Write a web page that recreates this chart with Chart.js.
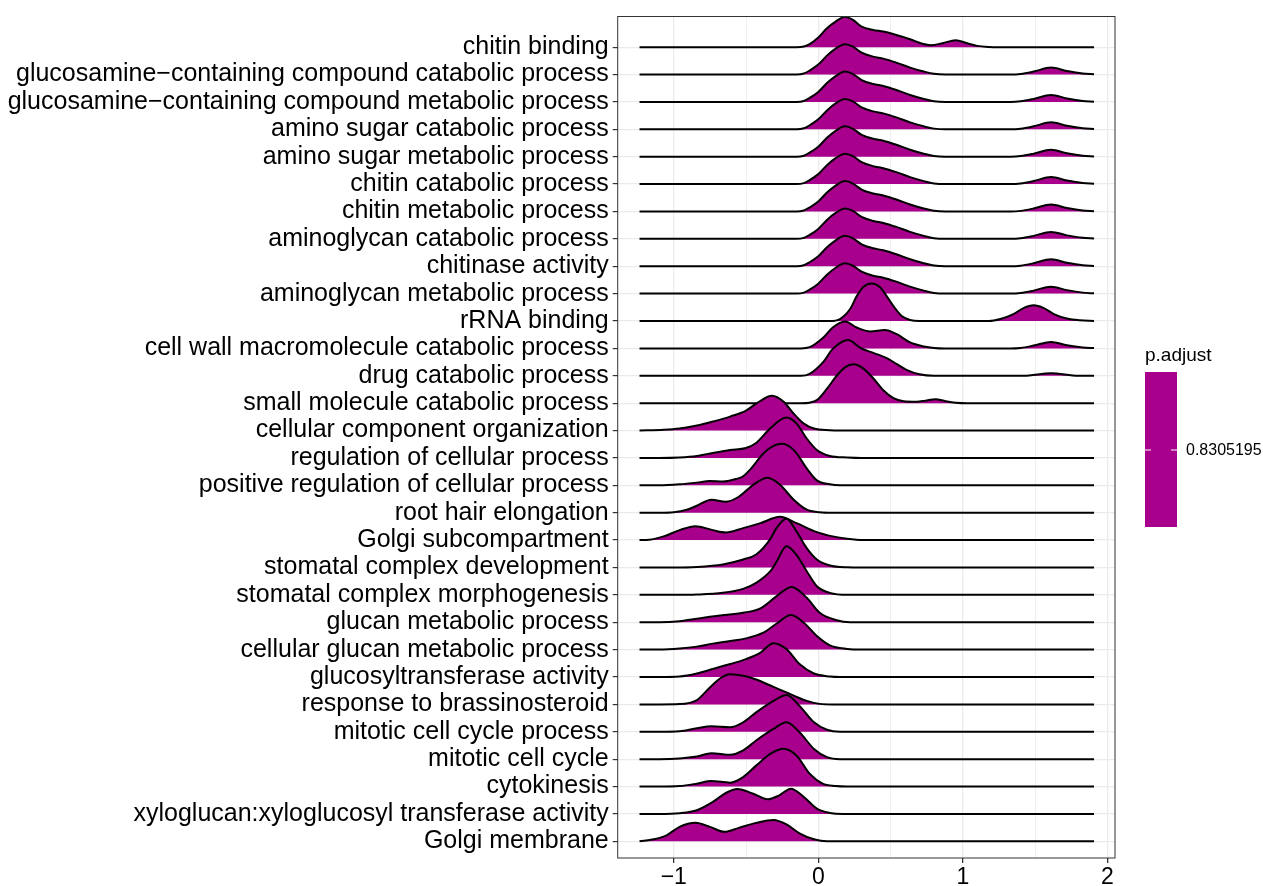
<!DOCTYPE html>
<html>
<head>
<meta charset="utf-8">
<script src="https://cdn.jsdelivr.net/npm/chart.js@4.4.1/dist/chart.umd.min.js"></script>
<style>
  body { margin: 0; background: #fff; }
  #wrap { width: 1263px; height: 886px; }
</style>
</head>
<body>
<div id="wrap"><canvas id="ridgeChart" width="1263" height="886"></canvas></div>
<script>
// GO terms, top to bottom
const categories = [
  "chitin binding",
  "glucosamine\u2212containing compound catabolic process",
  "glucosamine\u2212containing compound metabolic process",
  "amino sugar catabolic process",
  "amino sugar metabolic process",
  "chitin catabolic process",
  "chitin metabolic process",
  "aminoglycan catabolic process",
  "chitinase activity",
  "aminoglycan metabolic process",
  "rRNA binding",
  "cell wall macromolecule catabolic process",
  "drug catabolic process",
  "small molecule catabolic process",
  "cellular component organization",
  "regulation of cellular process",
  "positive regulation of cellular process",
  "root hair elongation",
  "Golgi subcompartment",
  "stomatal complex development",
  "stomatal complex morphogenesis",
  "glucan metabolic process",
  "cellular glucan metabolic process",
  "glucosyltransferase activity",
  "response to brassinosteroid",
  "mitotic cell cycle process",
  "mitotic cell cycle",
  "cytokinesis",
  "xyloglucan:xyloglucosyl transferase activity",
  "Golgi membrane"
];

// density curves: [log2 fold change, density height]
const chitinShape = [[-0.15,0],[-0.10,1],[-0.06,4],[0,10],[0.06,19],[0.12,26],[0.185,30.5],[0.24,28],[0.30,22],[0.38,18],[0.45,16],[0.54,12],[0.635,7],[0.73,3],[0.80,0.7],[0.88,0],[1.33,0],[1.40,0.6],[1.49,3],[1.61,7],[1.72,3.5],[1.83,1],[1.908,0.3]];

const ridgePoints = [
  [[-0.15,0],[-0.10,0.7],[-0.06,3],[0,9.7],[0.06,19],[0.12,25.7],[0.185,30.5],[0.24,27.3],[0.30,20.7],[0.38,17.3],[0.45,15.7],[0.54,12.3],[0.635,8],[0.72,3.5],[0.78,2],[0.86,4],[0.95,7],[1.03,4],[1.10,1.3],[1.18,0.2],[1.25,0]],
  chitinShape, chitinShape, chitinShape, chitinShape, chitinShape,
  chitinShape, chitinShape, chitinShape, chitinShape,
  [[0.08,0],[0.15,2],[0.22,12],[0.266,25],[0.31,34],[0.369,37.7],[0.427,34],[0.473,25],[0.52,15],[0.577,5],[0.635,1],[0.70,0],[1.18,0],[1.26,2],[1.35,7],[1.42,13],[1.49,15.7],[1.56,13],[1.63,7],[1.72,2.5],[1.81,0.7],[1.908,0.1]],
  [[-0.12,0],[-0.06,1.2],[0.035,11],[0.10,21],[0.185,27],[0.265,21],[0.36,17],[0.46,18.5],[0.54,14.5],[0.635,6],[0.73,2],[0.80,0.5],[0.87,0],[1.33,0],[1.40,0.5],[1.49,2.8],[1.61,6.5],[1.72,3.2],[1.83,1],[1.908,0.3]],
  [[-0.12,0],[-0.06,2],[0.035,14],[0.10,27],[0.208,36],[0.29,28],[0.38,23],[0.47,18],[0.54,12],[0.61,6],[0.70,1.5],[0.80,0],[1.42,0],[1.61,2.5],[1.80,0]],
  [[-0.12,0],[-0.06,0.5],[-0.01,3],[0.06,14.5],[0.13,28],[0.185,36],[0.242,39],[0.31,35],[0.38,25],[0.45,13],[0.52,5],[0.59,2],[0.68,1.5],[0.74,2.5],[0.81,4],[0.88,2],[0.95,0.5],[1.03,0]],
  [[-1.237,0],[-1.07,0.7],[-0.96,2],[-0.84,5],[-0.73,9],[-0.61,14],[-0.5,20],[-0.43,27],[-0.32,35],[-0.24,29],[-0.17,17],[-0.10,7],[-0.03,2],[0.08,0.3],[0.15,0]],
  [[-1.1,0],[-0.96,0.5],[-0.84,2],[-0.73,5],[-0.61,8],[-0.5,10],[-0.43,15],[-0.33,30],[-0.22,40.5],[-0.15,34.5],[-0.08,19.5],[-0.01,8],[0.08,2],[0.2,0.5],[0.3,0]],
  [[-1.1,0],[-0.96,1],[-0.84,2.7],[-0.75,4.3],[-0.66,3.7],[-0.57,6.3],[-0.52,9],[-0.47,16],[-0.38,32],[-0.31,39.5],[-0.25,41.7],[-0.19,38],[-0.15,32],[-0.08,17],[-0.01,5],[0.08,1],[0.15,0]],
  [[-1.1,0],[-1.0,0.5],[-0.91,3],[-0.84,7],[-0.74,13],[-0.64,11],[-0.55,16],[-0.45,28],[-0.35,35],[-0.265,28],[-0.17,13],[-0.08,3],[0.01,0.5],[0.1,0]],
  [[-1.237,0],[-1.17,0.3],[-1.07,3.7],[-0.96,10],[-0.85,14],[-0.73,10],[-0.64,7.7],[-0.52,12],[-0.40,17],[-0.265,23.3],[-0.15,17],[-0.01,8],[0.1,3.7],[0.2,1.3],[0.31,0]],
  [[-1.0,0],[-0.84,0.5],[-0.66,3],[-0.52,8],[-0.43,13],[-0.33,29],[-0.29,39.5],[-0.22,49],[-0.15,36],[-0.08,19.5],[-0.01,8],[0.08,2],[0.2,0.2],[0.3,0]],
  [[-1.0,0],[-0.84,0.3],[-0.66,2],[-0.52,6],[-0.43,12],[-0.33,24],[-0.29,33],[-0.22,48.7],[-0.15,40],[-0.08,23.7],[-0.01,8.7],[0.08,2],[0.2,0]],
  [[-1.1,0],[-0.96,1],[-0.84,3.5],[-0.75,5.5],[-0.63,7.5],[-0.52,9.5],[-0.40,14],[-0.29,26],[-0.184,35.5],[-0.08,24.5],[0.01,9.5],[0.127,2],[0.22,0]],
  [[-1.1,0],[-0.96,1],[-0.84,3],[-0.73,6],[-0.61,8.7],[-0.5,11.3],[-0.38,17],[-0.29,26],[-0.19,34.7],[-0.10,27],[-0.01,13.7],[0.08,4.3],[0.2,0.7],[0.3,0]],
  [[-1.1,0],[-0.96,0.5],[-0.84,3.5],[-0.73,8],[-0.61,13],[-0.5,18],[-0.40,24.5],[-0.31,34],[-0.22,28],[-0.13,13],[-0.03,3.5],[0.08,0.5],[0.15,0]],
  [[-1.1,0],[-0.96,0.3],[-0.84,4.3],[-0.75,17],[-0.68,26],[-0.61,30.3],[-0.52,28.7],[-0.43,25],[-0.31,17.5],[-0.22,12],[-0.15,7.5],[-0.08,3.5],[0.01,0.5],[0.1,0]],
  [[-1.1,0],[-0.96,0.5],[-0.84,3.5],[-0.74,5.5],[-0.61,4.5],[-0.52,9.5],[-0.43,19.5],[-0.31,31],[-0.22,37],[-0.13,26],[-0.03,9.5],[0.06,2],[0.15,0]],
  [[-1.1,0],[-0.96,0.7],[-0.84,2.7],[-0.74,6],[-0.61,4.3],[-0.52,8.7],[-0.43,18.7],[-0.31,30.3],[-0.22,37],[-0.13,27],[-0.03,10.3],[0.06,2],[0.15,0]],
  [[-1.1,0],[-0.96,0.5],[-0.84,2.9],[-0.74,5.5],[-0.61,3.9],[-0.52,9.5],[-0.43,21],[-0.33,33],[-0.24,37.9],[-0.15,31],[-0.06,12.9],[0.03,2.9],[0.12,0.5],[0.2,0]],
  [[-1.1,0],[-0.96,0.7],[-0.84,3.7],[-0.73,12],[-0.64,21],[-0.56,25],[-0.45,20.3],[-0.35,14.7],[-0.27,18.7],[-0.19,25.3],[-0.10,17],[-0.01,5.3],[0.08,1],[0.17,0]],
  [[-1.237,0],[-1.14,2],[-1.05,6],[-0.96,14.5],[-0.85,18.5],[-0.75,14.5],[-0.65,9.5],[-0.55,13.5],[-0.43,18.5],[-0.31,21.5],[-0.22,17],[-0.13,8],[-0.03,2],[0.06,0]]
];

const densityRange = [-1.237, 1.908];
const xTicks = [-1, 0, 1, 2];
const xTickLabels = ["\u22121", "0", "1", "2"];
const xMinorTicks = [-0.5, 0.5, 1.5];
const pAdjust = "0.8305195";

const fillColor = "#A8008C";
const fontFamily = "'Liberation Sans', Arial, Helvetica, sans-serif";
const ridgeScale = 1 / 27.5;   // density -> row units
const nRows = categories.length;

const datasets = categories.map((name, i) => {
  const base = nRows - 1 - i;
  const pts = ridgePoints[i].slice();
  if (pts[0][0] > densityRange[0]) pts.unshift([densityRange[0], 0]);
  if (pts[pts.length - 1][0] < densityRange[1]) pts.push([densityRange[1], 0]);
  return {
    label: name,
    data: pts.map(p => ({ x: p[0], y: base + p[1] * ridgeScale })),
    borderColor: "#000",
    borderWidth: 2,
    borderJoinStyle: "round",
    backgroundColor: fillColor,
    fill: { value: base },
    pointRadius: 0,
    cubicInterpolationMode: "monotone",
    order: base
  };
});

// panel border + colour bar legend
const panelAndLegend = {
  id: "panelAndLegend",
  afterDraw(chart) {
    const { ctx, chartArea: a } = chart;
    ctx.save();
    ctx.strokeStyle = "#333";
    ctx.lineWidth = 1;
    ctx.strokeRect(a.left, a.top, a.right - a.left, a.bottom - a.top);

    ctx.fillStyle = "#000";
    ctx.font = "19px " + fontFamily;
    ctx.textBaseline = "alphabetic";
    ctx.fillText("p.adjust", 1145, 361);

    ctx.fillStyle = fillColor;
    ctx.fillRect(1145, 372, 32, 155);
    ctx.strokeStyle = "#fff";
    ctx.beginPath();
    ctx.moveTo(1145, 450); ctx.lineTo(1151, 450);
    ctx.moveTo(1171, 450); ctx.lineTo(1177, 450);
    ctx.stroke();

    ctx.fillStyle = "#000";
    ctx.font = "16px " + fontFamily;
    ctx.textBaseline = "middle";
    ctx.fillText(pAdjust, 1186, 451);
    ctx.restore();
  }
};

new Chart(document.getElementById("ridgeChart"), {
  type: "line",
  data: { datasets: datasets },
  plugins: [panelAndLegend],
  options: {
    responsive: false,
    animation: false,
    layout: { padding: { left: 0, right: 148, top: 13, bottom: 0 } },
    plugins: { legend: { display: false }, tooltip: { enabled: false } },
    scales: {
      x: {
        type: "linear",
        min: -1.388,
        max: 2.053,
        afterBuildTicks: s => {
          s.ticks = xTicks.concat(xMinorTicks).sort((a, b) => a - b).map(v => ({ value: v }));
        },
        afterFit: s => { s.height = 28; },
        ticks: {
          autoSkip: false,
          maxRotation: 0,
          padding: 1,
          color: "#000",
          font: { family: fontFamily, size: 23 },
          callback: v => {
            const k = xTicks.indexOf(v);
            return k >= 0 ? xTickLabels[k] : "";
          }
        },
        grid: {
          color: "#EBEBEB",
          lineWidth: ctx => (xTicks.includes(ctx.tick.value) ? 1.3 : 0.8),
          tickLength: 5,
          tickColor: ctx => (xTicks.includes(ctx.tick.value) ? "#333" : "rgba(0,0,0,0)")
        },
        border: { display: false }
      },
      y: {
        type: "linear",
        min: -0.61,
        max: 30.12,
        afterBuildTicks: s => {
          s.ticks = categories.map((c, i) => ({ value: i }));
        },
        afterFit: s => { s.width = 617.7; },
        ticks: {
          autoSkip: false,
          padding: 4,
          color: "#000",
          font: { family: fontFamily, size: 25, lineHeight: 1 },
          callback: v => categories[nRows - 1 - Math.round(v)]
        },
        grid: { color: "#EBEBEB", lineWidth: 1.2, tickLength: 5, tickColor: "#333" },
        border: { display: false }
      }
    }
  }
});
</script>
</body>
</html>
